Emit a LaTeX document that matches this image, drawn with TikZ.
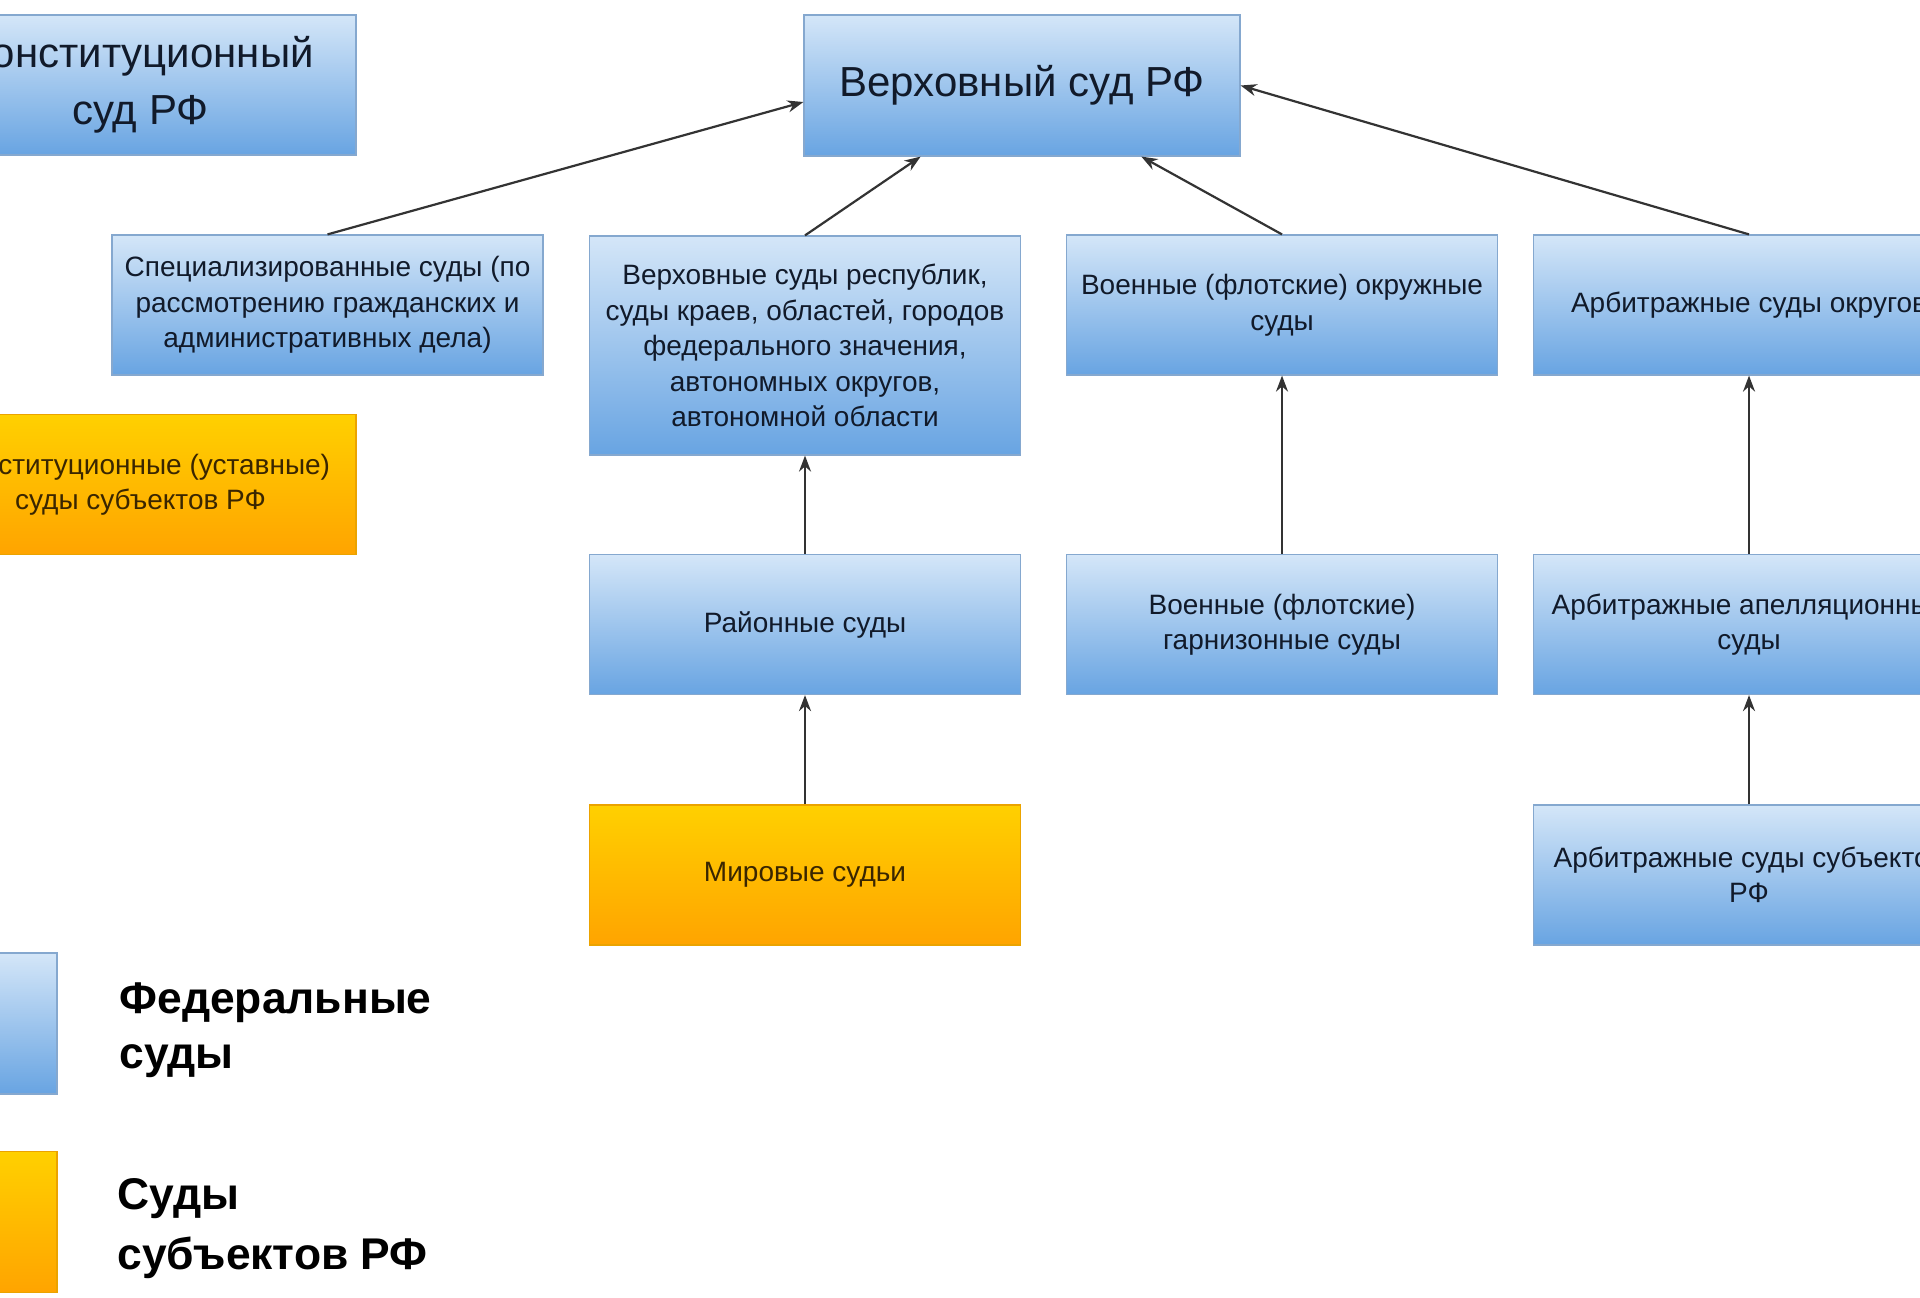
\documentclass[tikz,border=0pt]{standalone}
\usepackage{fontspec}
\setmainfont{Liberation Sans}
\usetikzlibrary{arrows.meta,calc}
\definecolor{bluetop}{HTML}{D4E6F8}
\definecolor{bluebot}{HTML}{68A4E2}
\definecolor{blueline}{HTML}{85A8CF}
\definecolor{orgtop}{HTML}{FFD000}
\definecolor{orgbot}{HTML}{FFA400}
\definecolor{orgline}{HTML}{EBA300}
\definecolor{bluetext}{HTML}{111A2A}
\definecolor{orgtext}{HTML}{3A2600}
\begin{document}
\begin{tikzpicture}[x=0.5pt,y=-0.5pt,
 box/.style={minimum width=215.5pt, minimum height=70pt, inner sep=0pt, align=center,
   font=\fontsize{14}{17.75}\selectfont},
 fed/.style={box, top color=bluetop, bottom color=bluebot, draw=blueline, line width=0.6pt, text=bluetext},
 subj/.style={box, top color=orgtop, bottom color=orgbot, draw=orgline, line width=0.6pt, text=orgtext},
 big/.style={font=\fontsize{21}{28.75}\selectfont},
 conn/.style={-{Stealth[length=8pt,width=6pt]}, line width=1.1pt, draw=black!80},
 legend/.style={font=\bfseries\fontsize{22.2}{28}\selectfont, anchor=base west, inner sep=0pt}]

\useasboundingbox (0,0) rectangle (1920,1297);
\clip (0,0) rectangle (1920,1297);
\fill[white] (0,0) rectangle (1920,1297);

% top row
\node[fed, big] (ks) at (140.5,85) {Конституционный\\суд РФ};
\node[fed, big, minimum width=218pt, minimum height=70.5pt] (vs) at (1022,85.5) {Верховный суд РФ};

% second row
\node[fed] (spec) at (327.5,305) {Специализированные суды (по\\рассмотрению гражданских и\\административных дела)};
\node[fed, minimum height=109.5pt] (vsr) at (805,345.5) {Верховные суды республик,\\суды краев, областей, городов\\федерального значения,\\автономных округов,\\автономной области};
\node[fed] (voen) at (1282,305) {Военные (флотские) окружные\\суды};
\node[fed] (arbo) at (1749,305) {Арбитражные суды округов};
\node[subj] (kus) at (140.5,484.5) {Конституционные (уставные)\\суды субъектов РФ};

% third row
\node[fed] (rs) at (805,624.5) {Районные суды};
\node[fed] (vg) at (1282,624.5) {Военные (флотские)\\гарнизонные суды};
\node[fed] (aa) at (1749,624.5) {Арбитражные апелляционные\\суды};

% fourth row
\node[subj] (ms) at (805,875) {Мировые судьи};
\node[fed] (as) at (1749,875) {Арбитражные суды субъектов\\РФ};

% legend
\node[fed, minimum width=70pt, minimum height=70.5pt] (lf) at (-13,1023.5) {};
\node[subj, minimum width=70pt, minimum height=70.5pt] (lo) at (-13,1222) {};
\node[legend] (lf1) at (119,1013) {Федеральные};
\node[legend] (lf2) at (119,1068) {суды};
\node[legend] (lo1) at (117,1209) {Суды};
\node[legend] (lo2) at (117,1269) {субъектов РФ};

% connectors
\draw[conn] (spec.north) -- ($(vs.west)+(0,16.5)$);
\draw[conn] (vsr.north) -- ($(vs.south west)!0.268!(vs.south east)$);
\draw[conn] (voen.north) -- ($(vs.south west)!0.773!(vs.south east)$);
\draw[conn] (arbo.north) -- (vs.east);
\draw[conn] (rs.north) -- (vsr.south);
\draw[conn] (ms.north) -- (rs.south);
\draw[conn] (vg.north) -- (voen.south);
\draw[conn] (aa.north) -- (arbo.south);
\draw[conn] (as.north) -- (aa.south);
\end{tikzpicture}
\end{document}
